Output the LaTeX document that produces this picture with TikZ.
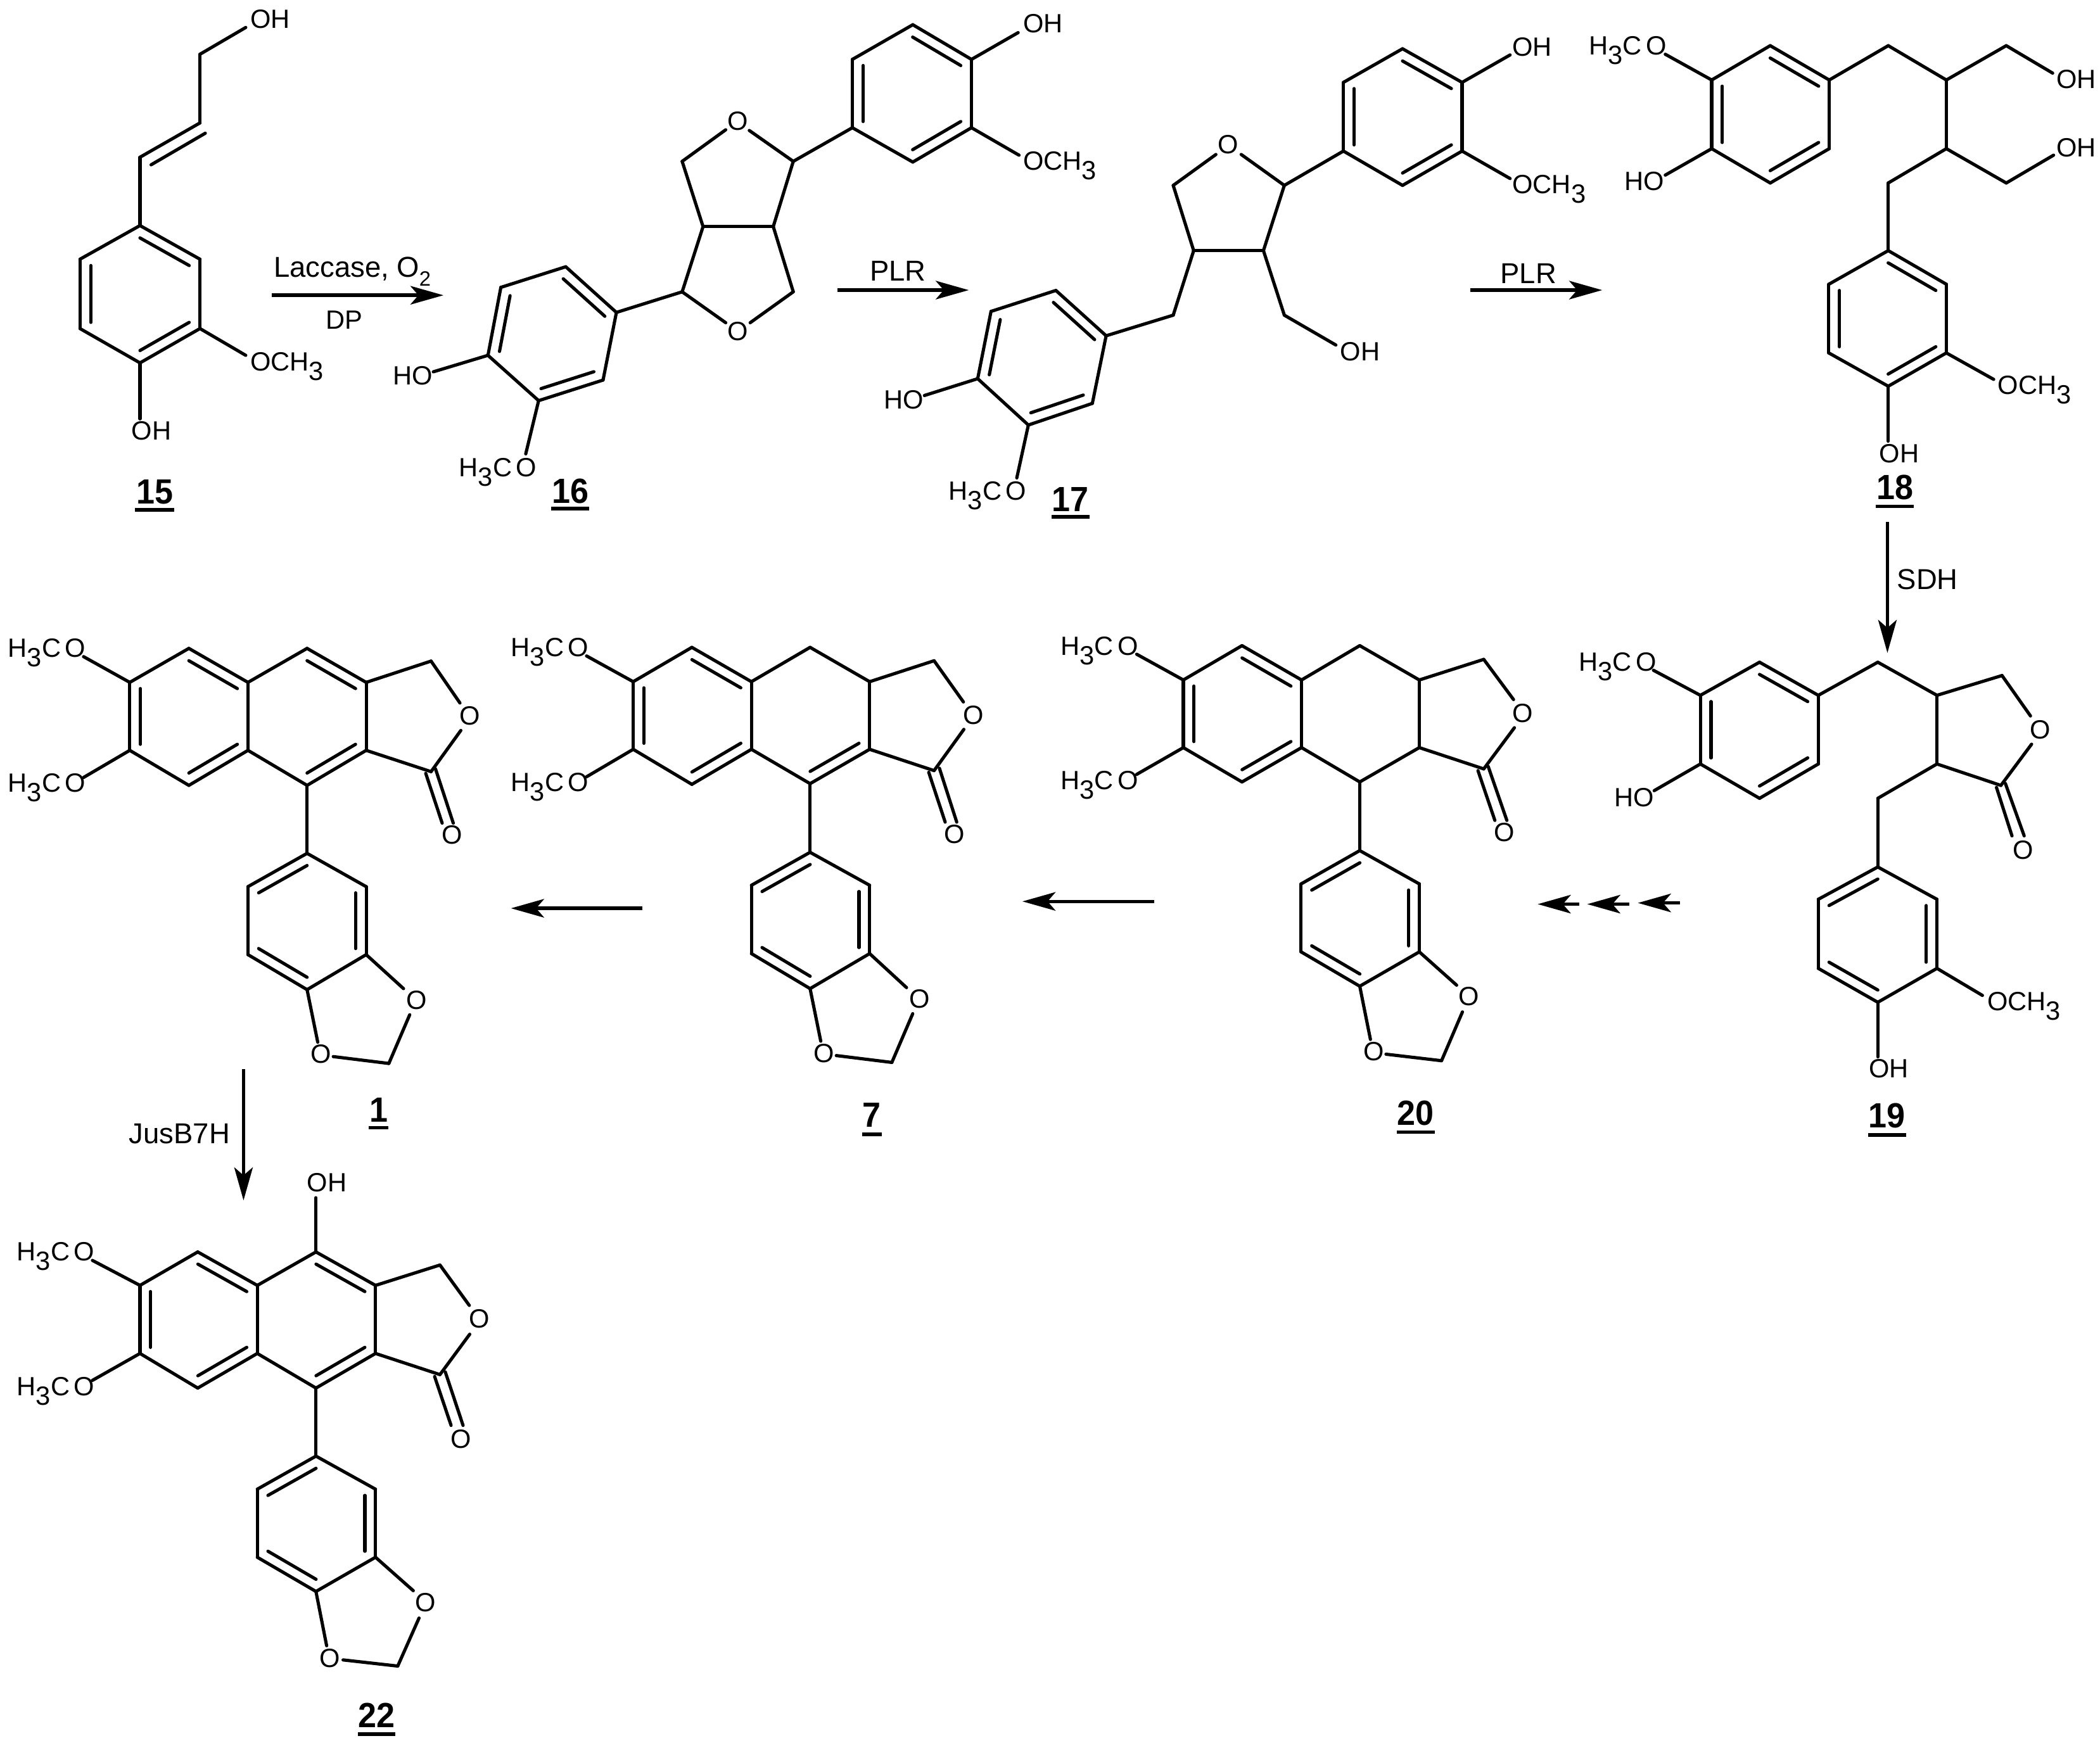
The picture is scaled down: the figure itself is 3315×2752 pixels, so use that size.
\documentclass[tikz,border=0pt]{standalone}
\usepackage{fontspec}
\setmainfont{Liberation Sans}
\usetikzlibrary{calc,arrows.meta}
\newcommand\lo{\raisebox{-.36em}{3}}
\newcommand\txHCO{H\lo C\kern.15em O}
\newcommand\txOCH{OCH\lo}
\newcommand\atoms[1]{\foreach \n/\x/\y in {#1}{\coordinate (\n) at (\x,\y);}}
\newcommand\sbonds[1]{\foreach \a/\b in {#1}{\draw[bond] (\a) -- (\b);}}
\newcommand\dbonds[2]{\foreach \a/\b in {#2}{\draw[bond] (\a) -- (\b); \draw[bond] ($(\a)!.18!(#1)$) -- ($(\b)!.18!(#1)$);}}
\newcommand\cmpd[7]{\node[cmpdlab] (#1) at (#3,#4) {\scalebox{1}[1.06]{#2}}; \draw[ulrule] (#5,#7) -- (#6,#7);}
\tikzset{
  bond/.style={line width=1.22pt,line cap=round,line join=round},
  ulrule/.style={line width=1.4pt},
  rxn/.style={line width=1.3pt,-{Stealth[length=12.5pt,width=7pt,inset=3pt]}},
  lab/.style={anchor=base west,inner sep=0pt,font=\fontsize{10}{12}\selectfont},
  atomO/.style={anchor=center,inner sep=0pt,font=\fontsize{10}{12}\selectfont},
  rlab/.style={anchor=base west,inner sep=0pt,font=\fontsize{10.9}{13}\selectfont},
  cmpdlab/.style={anchor=base,inner sep=0pt,font=\fontsize{12.5}{14}\selectfont\bfseries},
  zA/.style={shift={(#1)},x=0.16836pt,y=-0.13010pt},
  zC/.style={shift={(#1)},x=0.17066pt,y=-0.13010pt},
  zF/.style={shift={(#1)},x=0.14005pt,y=-0.15306pt},
  zG/.style={shift={(#1)},x=0.16836pt,y=-0.14571pt},
}
\begin{document}
\begin{tikzpicture}[x=0.24pt,y=-0.24pt]
\fill[white] (0,0) rectangle (3315,2752);
\useasboundingbox (0,0) rectangle (3315,2752);

% ---------- 15 ----------
\begin{scope}[zA={0,0}]
\atoms{a1/315/657,a2/450/755,a3/450/957,a4/315/1057,a5/180/957,a6/180/755,ac/315/857,
 ab/315/458,ad/450/358,ae/450/158,af/553/80,ag/553/1035,ah/315/1220,abi/340/480,adi/462/388,
 arA/612/860,arB/998/860}
\dbonds{ac}{a1/a2,a3/a4,a5/a6}
\sbonds{a2/a3,a4/a5,a6/a1,a1/ab,ab/ad,abi/adi,ad/ae,ae/af,a3/ag,a4/ah}
\node[lab] (t15a) at (562,82) {OH};
\node[lab] (t15b) at (562,1080) {\txOCH};
\node[lab] (t15c) at (295,1282) {OH};
\cmpd{c15}{15}{348}{1468}{304}{392}{1485}
\draw[rxn] (arA) -- (arB);
\node[rlab] (r1) at (615,808) {Laccase, O\raisebox{-.3em}{\scalebox{.72}{2}}};
\node[lab] (r1b) at (732,958) {DP};
\end{scope}

% ---------- 16 ----------
\begin{scope}[zA={1100,0}]
\atoms{b1/-181/910,b2/-295/777,b3/-441/837,b4/-470/1035,b5/-356/1167,b6/-211/1107,bc/-326/972,
 bh/-593/1083,bm/-385/1322,
 d1/-33/850,d2/-33/470,d3/65/378,d4/118/380,d5/217/470,d6/172/660,d7/14/660,d8/217/850,d9/120/940,d10/65/940,
 e1/350/372,e2/350/173,e3/486/72,e4/618/173,e5/618/372,e6/486/472,ec/484/272,eh/723/95,em/725/452}
\dbonds{bc}{b1/b2,b3/b4,b5/b6}
\sbonds{b2/b3,b4/b5,b6/b1,b4/bh,b5/bm,b1/d1,d2/d3,d4/d5,d5/d6,d6/d7,d7/d2,d6/d8,d8/d9,d10/d1,d7/d1,d5/e1}
\dbonds{ec}{e1/e2,e3/e4,e5/e6}
\sbonds{e2/e3,e4/e5,e6/e1,e4/eh,e5/em}
\node[atomO] (t16o1) at (92,352) {O};
\node[atomO] (t16o2) at (92,965) {O};
\node[lab] (t16a) at (733,95) {OH};
\node[lab] (t16b) at (733,495) {\txOCH};
\node[lab] (t16c) at (-685,1120) {HO};
\node[lab] (t16d) at (-536,1388) {\txHCO};
\cmpd{c16}{16}{-285}{1465}{-328}{-242}{1482}
\coordinate (ar2A) at (317,845);
\coordinate (ar2B) at (612,845);
\draw[rxn] (ar2A) -- (ar2B);
\node[rlab] (r2) at (388,818) {PLR};

% ---------- 17 ----------
\atoms{f1/921/978,f2/808/846,f3/662/907,f4/632/1103,f5/746/1238,f6/890/1175,fc/777/1040,
 fh/512/1152,fm/720/1392,
 g1/1072/918,g2/1118/730,g3/1275/730,g4/1072/540,g5/1168/450,g6/1225/450,g7/1322/540,g8/1322/918,g9/1438/1005,
 k1/1455/440,k2/1455/240,k3/1588/142,k4/1722/240,k5/1722/440,k6/1588/540,kc/1588/340,kh/1830/160,km/1830/520}
\dbonds{fc}{f1/f2,f3/f4,f5/f6}
\sbonds{f2/f3,f4/f5,f6/f1,f4/fh,f5/fm,f1/g1,g1/g2,g2/g3,g2/g4,g4/g5,g6/g7,g7/g3,g3/g8,g8/g9,g7/k1}
\dbonds{kc}{k1/k2,k3/k4,k5/k6}
\sbonds{k2/k3,k4/k5,k6/k1,k4/kh,k5/km}
\node[atomO] (t17o) at (1195,420) {O};
\node[lab] (t17a) at (1447,1050) {OH};
\node[lab] (t17b) at (420,1190) {HO};
\node[lab] (t17c) at (566,1457) {\txHCO};
\node[lab] (t17d) at (1834,163) {OH};
\node[lab] (t17e) at (1834,563) {\txOCH};
\cmpd{c17}{17}{840}{1490}{798}{884}{1505}
\end{scope}

% ---------- 18 ----------
\begin{scope}[zC={2200,0}]
\atoms{m1/706/233,m2/836/133,m3/967/233,m4/967/433,m5/836/533,m6/706/433,mc/836/333,
 mh/603/510,mm/603/158,
 n1/1098/133,n2/1227/233,n3/1360/133,n4/1463/213,n5/1227/433,n6/1360/533,n7/1465/452,n8/1098/533,
 o1/1098/730,o2/1227/828,o3/1227/1028,o4/1098/1125,o5/966/1028,o6/966/828,oc/1097/928,om/1332/1105,oh/1098/1285,
 ar3A/170/845,ar3B/463/845}
\dbonds{mc}{m1/m6,m2/m3,m4/m5}
\sbonds{m1/m2,m3/m4,m5/m6,m1/mm,m6/mh,m3/n1,n1/n2,n2/n3,n3/n4,n2/n5,n5/n6,n6/n7,n5/n8,n8/o1}
\dbonds{oc}{o1/o2,o3/o4,o5/o6}
\sbonds{o2/o3,o4/o5,o6/o1,o3/om,o4/oh}
\node[lab] (t18a) at (433,160) {\txHCO};
\node[lab] (t18b) at (512,555) {HO};
\node[lab] (t18c) at (1470,258) {OH};
\node[lab] (t18d) at (1470,456) {OH};
\node[lab] (t18e) at (1340,1148) {\txOCH};
\node[lab] (t18f) at (1077,1348) {OH};
\cmpd{c18}{18}{1113}{1455}{1070}{1155}{1475}
\draw[rxn] (ar3A) -- (ar3B);
\node[rlab] (r3) at (236,825) {PLR};
\end{scope}

% ---------- 19 ----------
\begin{scope}[zF={2400,800}]
\atoms{p1/487/467,p2/647/385,p3/806/467,p4/806/637,p5/647/722,p6/487/637,pc/647/553,pm/360/405,ph/362/703,
 q1/967/385,q2/1127/467,q3/1127/637,q4/1303/418,q5/1380/518,q6/1383/588,q7/1300/690,
 q8/1288/695,q9/1330/815,q10/1312/685,q11/1363/815,q12/967/722,
 s1/967/892,s2/1127/972,s3/1127/1143,s4/967/1227,s5/806/1143,s6/806/972,sc/967/1058,sm/1250/1210,sh/967/1362,
 ar4A/993/37,ar4B/993/362,
 ar5A/432/981,ar5B/318/981,ar6A/295/984,ar6B/181/984,ar7A/160/984,ar7B/47/984}
\dbonds{pc}{p1/p6,p2/p3,p4/p5}
\sbonds{p1/p2,p3/p4,p5/p6,p1/pm,p6/ph,p3/q1,q1/q2,q2/q3,q2/q4,q4/q5,q6/q7,q3/q7,q8/q9,q10/q11,q3/q12,q12/s1}
\dbonds{sc}{s1/s6,s2/s3,s5/s4}
\sbonds{s1/s2,s3/s4,s5/s6,s3/sm,s4/sh}
\node[atomO] (t19o1) at (1407,552) {O};
\node[atomO] (t19o2) at (1360,850) {O};
\node[lab] (t19a) at (157,407) {\txHCO};
\node[lab] (t19b) at (253,742) {HO};
\node[lab] (t19c) at (1262,1247) {\txOCH};
\node[lab] (t19d) at (942,1413) {OH};
\cmpd{c19}{19}{992}{1537}{940}{1043}{1555}
\draw[rxn] (ar4A) -- (ar4B);
\node[rlab] (r4) at (1018,205) {SDH};
\draw[rxn] (ar5A) -- (ar5B);
\draw[rxn] (ar6A) -- (ar6B);
\draw[rxn] (ar7A) -- (ar7B);
\end{scope}

% ---------- 20 ----------
\begin{scope}[zA={1600,950}]
\atoms{u1/382/228,u2/514/128,u3/648/228,u4/648/425,u5/514/525,u6/382/425,uc/515/327,um/277/153,un/277/503,
 v1/779/128,v2/913/228,v3/913/425,v4/779/525,v5/1058/168,v6/1125/285,v7/1127/367,v8/1058/487,
 v9/1045/492,v10/1083/637,v11/1068/480,v12/1110/637,
 w1/779/725,w2/913/822,w3/913/1020,w4/779/1120,w5/647/1020,w6/647/822,wc/780/922,
 w7/997/1117,w8/1010/1195,w9/963/1337,w10/838/1318,w11/803/1275,
 ar8A/316/873,ar8B/20/873}
\dbonds{uc}{u1/u6,u2/u3,u4/u5}
\sbonds{u1/u2,u3/u4,u5/u6,u1/um,u6/un,u3/v1,v1/v2,v2/v3,v3/v4,v4/u4,v2/v5,v5/v6,v7/v8,v3/v8,v9/v10,v11/v12,v4/w1}
\dbonds{wc}{w1/w6,w2/w3,w5/w4}
\sbonds{w1/w2,w3/w4,w5/w6,w3/w7,w8/w9,w9/w10,w11/w4}
\node[atomO] (t20o1) at (1146,325) {O};
\node[atomO] (t20o2) at (1105,672) {O};
\node[atomO] (t20o3) at (1025,1150) {O};
\node[atomO] (t20o4) at (811,1310) {O};
\node[lab] (t20a) at (105,155) {\txHCO};
\node[lab] (t20b) at (105,547) {\txHCO};
\cmpd{c20}{20}{904}{1525}{862}{948}{1545}
\draw[rxn] (ar8A) -- (ar8B);
\end{scope}

% ---------- 7 ----------
\begin{scope}[zA={780,950}]
\atoms{x1/313/233,x2/445/133,x3/579/233,x4/579/430,x5/445/532,x6/313/430,xc/446/332,xm/208/158,xn/208/510,
 y1/711/133,y2/845/233,y3/845/430,y4/711/530,yc/712/332,y5/990/172,y6/1056/292,y7/1057/372,y8/990/492,
 y9/978/497,y10/1015/642,y11/1002/485,y12/1041/642,
 z1/711/730,z2/845/826,z3/845/1025,z4/711/1127,z5/579/1025,z6/579/826,zc/712/927,
 z7/928/1124,z8/942/1200,z9/895/1342,z10/770/1322,z11/735/1280,
 ar9A/334/893,ar9B/38/893}
\dbonds{xc}{x1/x6,x2/x3,x4/x5}
\sbonds{x1/x2,x3/x4,x5/x6,x1/xm,x6/xn,x3/y1,y1/y2,y2/y3,y4/x4,y2/y5,y5/y6,y7/y8,y3/y8,y9/y10,y11/y12,y4/z1}
\dbonds{yc}{y3/y4}
\dbonds{zc}{z1/z6,z2/z3,z5/z4}
\sbonds{z1/z2,z3/z4,z5/z6,z3/z7,z8/z9,z9/z10,z11/z4}
\node[atomO] (t7o1) at (1078,331) {O};
\node[atomO] (t7o2) at (1036,678) {O};
\node[atomO] (t7o3) at (957,1157) {O};
\node[atomO] (t7o4) at (742,1315) {O};
\node[lab] (t7a) at (37,160) {\txHCO};
\node[lab] (t7b) at (37,553) {\txHCO};
\cmpd{c7}{7}{850}{1530}{828}{872}{1552}
\draw[rxn] (ar9A) -- (ar9B);
\end{scope}

% ---------- 1 ----------
\begin{scope}[zA={0,950}]
\atoms{aa1/292/235,aa2/425/136,aa3/558/235,aa4/558/433,aa5/425/535,aa6/292/433,aac/425/335,aam/188/160,aan/188/512,
 ab1/691/136,ab2/824/235,ab3/824/433,ab4/691/535,abc/691/335,ab5/970/173,ab6/1035/295,ab7/1037/375,ab8/970/495,
 ab9/958/500,ab10/995/645,ab11/980/487,ab12/1020/645,
 ac1/691/733,ac2/824/830,ac3/824/1028,ac4/691/1130,ac5/558/1028,ac6/558/830,acc/691/930,
 ac7/908/1127,ac8/922/1203,ac9/875/1345,ac10/750/1325,ac11/715/1283,
 ar10A/548/1362}
\dbonds{aac}{aa1/aa6,aa2/aa3,aa4/aa5}
\sbonds{aa1/aa2,aa3/aa4,aa5/aa6,aa1/aam,aa6/aan,aa3/ab1,ab2/ab3,ab4/aa4,ab2/ab5,ab5/ab6,ab7/ab8,ab3/ab8,ab9/ab10,ab11/ab12,ab4/ac1}
\dbonds{abc}{ab1/ab2,ab3/ab4}
\dbonds{acc}{ac1/ac6,ac2/ac3,ac5/ac4}
\sbonds{ac1/ac2,ac3/ac4,ac5/ac6,ac3/ac7,ac8/ac9,ac9/ac10,ac11/ac4}
\node[atomO] (t1o1) at (1058,333) {O};
\node[atomO] (t1o2) at (1017,680) {O};
\node[atomO] (t1o3) at (937,1160) {O};
\node[atomO] (t1o4) at (722,1318) {O};
\node[lab] (t1a) at (17,162) {\txHCO};
\node[lab] (t1b) at (17,555) {\txHCO};
\cmpd{c1}{1}{852}{1515}{830}{874}{1532}
\end{scope}

% ---------- 22 ----------
\begin{scope}[zG={0,1800}]
\atoms{ba1/315/378,ba2/445/291,ba3/579/378,ba4/579/555,ba5/445/645,ba6/315/555,bac/447/467,bam/208/313,ban/208/625,
 bb1/711/291,bb2/845/378,bb3/845/555,bb4/711/645,bbc/712/467,bb5/990/325,bb6/1056/430,bb7/1057/505,bb8/990/610,
 bb9/978/615,bb10/1015/742,bb11/1002/603,bb12/1042/742,bbo/711/150,
 bd1/711/822,bd2/845/908,bd3/845/1085,bd4/711/1174,bd5/579/1085,bd6/579/908,bdc/712/998,
 bd7/930/1172,bd8/943/1243,bd9/895/1368,bd10/772/1352,bd11/735/1315,
 ar10B/548/157}
\dbonds{bac}{ba1/ba6,ba2/ba3,ba4/ba5}
\sbonds{ba1/ba2,ba3/ba4,ba5/ba6,ba1/bam,ba6/ban,ba3/bb1,bb2/bb3,bb4/ba4,bb1/bbo,bb2/bb5,bb5/bb6,bb7/bb8,bb3/bb8,bb9/bb10,bb11/bb12,bb4/bd1}
\dbonds{bbc}{bb1/bb2,bb3/bb4}
\dbonds{bdc}{bd1/bd6,bd2/bd3,bd5/bd4}
\sbonds{bd1/bd2,bd3/bd4,bd5/bd6,bd3/bd7,bd8/bd9,bd9/bd10,bd11/bd4}
\node[atomO] (t22o1) at (1078,465) {O};
\node[atomO] (t22o2) at (1038,778) {O};
\node[atomO] (t22o3) at (958,1203) {O};
\node[atomO] (t22o4) at (742,1347) {O};
\node[lab] (t22a) at (37,313) {\txHCO};
\node[lab] (t22b) at (37,665) {\txHCO};
\node[lab] (t22c) at (690,135) {OH};
\cmpd{c22}{22}{848}{1528}{806}{890}{1545}
\draw[rxn] (ar10A) -- (ar10B);
\end{scope}
\node[rlab] (r5) at (203,1805) {JusB7H};
\end{tikzpicture}
\end{document}
